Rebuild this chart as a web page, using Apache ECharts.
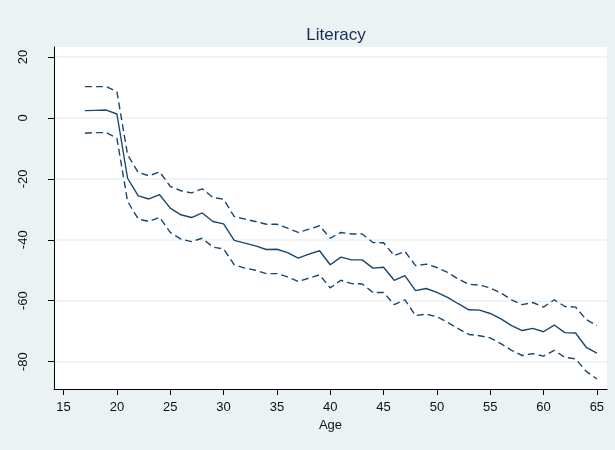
<!DOCTYPE html>
<html>
<head>
<meta charset="utf-8">
<script src="https://cdn.jsdelivr.net/npm/echarts@6/dist/echarts.min.js"></script>
<style>
html,body{margin:0;padding:0;background:#eaf2f3;}
#chart{width:615px;height:450px;}
</style>
</head>
<body>
<div id="chart"></div>
<script>
const ages = [17,18,19,20,21,22,23,24,25,26,27,28,29,30,31,32,33,34,35,36,37,38,39,40,41,42,43,44,45,46,47,48,49,50,51,52,53,54,55,56,57,58,59,60,61,62,63,64,65];
const estimate = [2.4,2.5,2.6,1.3,-19.8,-25.6,-26.6,-25.2,-29.6,-31.8,-32.7,-31.2,-34.0,-34.8,-40.2,-41.1,-42.0,-43.2,-43.1,-44.2,-46.0,-44.7,-43.6,-48.2,-45.7,-46.6,-46.6,-49.3,-49.0,-53.3,-51.8,-56.7,-56.0,-57.3,-58.9,-61.0,-63.0,-63.1,-64.2,-66.0,-68.2,-69.8,-69.1,-70.2,-68.0,-70.5,-70.6,-75.3,-77.2];
const upper = [10.3,10.3,10.3,8.6,-12.1,-17.9,-19.0,-17.7,-22.5,-23.9,-24.6,-23.3,-26.1,-26.7,-32.4,-33.2,-34.0,-34.9,-34.9,-36.2,-37.6,-36.5,-35.4,-39.5,-37.6,-38.1,-38.1,-40.9,-41.0,-45.2,-43.8,-48.5,-48.0,-49.1,-50.7,-52.9,-54.6,-54.9,-55.8,-57.5,-59.7,-61.3,-60.6,-62.1,-59.7,-61.9,-62.1,-66.2,-68.2];
const lower = [-5.0,-4.8,-4.8,-6.7,-27.4,-33.2,-34.0,-32.6,-37.6,-39.8,-40.6,-39.5,-42.4,-43.0,-48.2,-49.3,-50.0,-51.1,-51.1,-52.2,-53.7,-52.6,-51.5,-55.8,-53.3,-54.4,-54.5,-57.3,-57.3,-61.3,-59.7,-64.9,-64.4,-65.3,-67.1,-69.2,-71.1,-71.5,-72.2,-74.1,-76.3,-78.0,-77.4,-78.2,-76.3,-78.6,-79.1,-83.2,-85.7];
const xTicks = [15,20,25,30,35,40,45,50,55,60,65];
const yTicks = [-80,-60,-40,-20,0,20];
const titleText = 'Literacy';
const xName = 'Age';

const navy = '#1a476f';
const font = 'Liberation Sans, Arial, sans-serif';
const pair = (arr) => ages.map((a, i) => [a, arr[i]]);

const chart = echarts.init(document.getElementById('chart'), null, {renderer: 'canvas'});
chart.setOption({
  backgroundColor: '#eaf2f3',
  animation: false,
  title: {
    text: titleText,
    left: 331, top: 22, textAlign: 'center',
    textStyle: {fontFamily: font, fontSize: 17, fontWeight: 'normal', color: '#1c2b55'}
  },
  grid: {left: 54, right: 8, top: 47, bottom: 61, show: true, backgroundColor: '#ffffff', borderWidth: 0},
  xAxis: {
    type: 'value', min: 14.1, max: 65.95,
    name: xName, nameLocation: 'middle', nameGap: 28,
    nameTextStyle: {fontFamily: font, fontSize: 13, color: '#111'},
    axisLine: {show: true, onZero: false, lineStyle: {color: '#000', width: 1}},
    axisTick: {show: true, length: 6, customValues: xTicks, lineStyle: {color: '#000'}},
    axisLabel: {customValues: xTicks, margin: 12, fontFamily: font, fontSize: 13, color: '#111'},
    splitLine: {show: false}
  },
  yAxis: {
    type: 'value', min: -89, max: 23.3,
    axisLine: {show: true, onZero: false, lineStyle: {color: '#000', width: 1}},
    axisTick: {show: true, length: 6, customValues: yTicks, lineStyle: {color: '#000'}},
    axisLabel: {customValues: yTicks, rotate: 90, margin: 24, fontFamily: font, fontSize: 13, color: '#111'},
    splitLine: {show: true, customValues: yTicks, lineStyle: {color: '#eaf2f3', width: 1.5}}
  },
  series: [
    {type: 'line', data: pair(upper), showSymbol: false, lineStyle: {color: navy, width: 1.4, type: [7, 4]}, z: 3},
    {type: 'line', data: pair(estimate), showSymbol: false, lineStyle: {color: navy, width: 1.4}, z: 3},
    {type: 'line', data: pair(lower), showSymbol: false, lineStyle: {color: navy, width: 1.4, type: [7, 4]}, z: 3}
  ]
});
</script>
</body>
</html>
